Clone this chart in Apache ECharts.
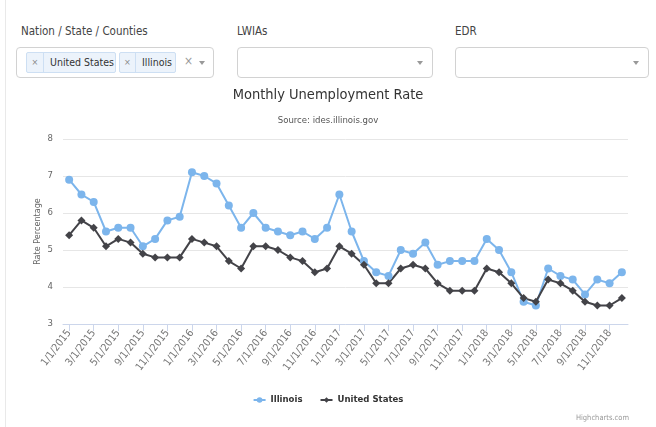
<!DOCTYPE html>
<html>
<head>
<meta charset="utf-8">
<script src="https://cdn.jsdelivr.net/npm/echarts@6/dist/echarts.min.js"></script>
<style>
  html, body { margin: 0; padding: 0; background: #fff; }
  body { width: 656px; height: 427px; position: relative; overflow: hidden;
         font-family: 'DejaVu Sans Condensed', 'Liberation Sans', sans-serif; }
  #chart { position: absolute; left: 0; top: 0; width: 656px; height: 427px; }
  .vline { position: absolute; left: 5px; top: 0; width: 1px; height: 427px; background: #e9e9e9; }
  .lbl { position: absolute; top: 23px; font-size: 11.5px; color: #444; line-height: 16px; white-space: nowrap; }
  .box { position: absolute; top: 47px; height: 29px; border: 1px solid #d2d2d2; border-radius: 4px; background: #fff; box-sizing: content-box; }
  .arrow { position: absolute; top: 13px; width: 0; height: 0; border-left: 3.5px solid transparent; border-right: 3.5px solid transparent; border-top: 4.5px solid #999; }
  .tag { position: absolute; top: 4px; height: 19px; border: 1px solid #cddff3; background: #ecf3fb; border-radius: 2px; font-size: 10.5px; color: #333; line-height: 19px; white-space: nowrap; }
  .tag .x { position: absolute; left: 0; top: 0; height: 19px; border-right: 1px solid #cddff3; color: #888; font-size: 9px; text-align: center; }
  .tag .t { position: absolute; top: 0; }
  .clr { position: absolute; top: 6px; font-size: 12px; color: #999; }
</style>
</head>
<body>
<div class="vline"></div>
<div class="lbl" style="left:21px;">Nation / State / Counties</div>
<div class="lbl" style="left:237px;">LWIAs</div>
<div class="lbl" style="left:455px;">EDR</div>

<div class="box" style="left:16px; width:196px;">
  <div class="tag" style="left:9px; width:88px;"><span class="x" style="width:16px;">×</span><span class="t" style="left:23px;">United States</span></div>
  <div class="tag" style="left:102px; width:55px;"><span class="x" style="width:15px;">×</span><span class="t" style="left:22px;">Illinois</span></div>
  <span class="clr" style="left:167px;">×</span>
  <div class="arrow" style="left:182px;"></div>
</div>
<div class="box" style="left:237px; width:194px;"><div class="arrow" style="left:179px;"></div></div>
<div class="box" style="left:455px; width:192px;"><div class="arrow" style="left:177px;"></div></div>

<div id="chart"></div>
<script>
const categories = [
  '1/1/2015','2/1/2015','3/1/2015','4/1/2015','5/1/2015','8/1/2015','9/1/2015','10/1/2015','11/1/2015','12/1/2015',
  '1/1/2016','2/1/2016','3/1/2016','4/1/2016','5/1/2016','6/1/2016','7/1/2016','8/1/2016','9/1/2016','10/1/2016','11/1/2016','12/1/2016',
  '1/1/2017','2/1/2017','3/1/2017','4/1/2017','5/1/2017','6/1/2017','7/1/2017','8/1/2017','9/1/2017','10/1/2017','11/1/2017','12/1/2017',
  '1/1/2018','2/1/2018','3/1/2018','4/1/2018','5/1/2018','6/1/2018','7/1/2018','8/1/2018','9/1/2018','10/1/2018','11/1/2018','12/1/2018'
];
const illinois = [
  6.9,6.5,6.3,5.5,5.6,5.6,5.1,5.3,5.8,5.9,
  7.1,7.0,6.8,6.2,5.6,6.0,5.6,5.5,5.4,5.5,5.3,5.6,
  6.5,5.5,4.7,4.4,4.3,5.0,4.9,5.2,4.6,4.7,4.7,4.7,
  5.3,5.0,4.4,3.6,3.5,4.5,4.3,4.2,3.8,4.2,4.1,4.4
];
const unitedStates = [
  5.4,5.8,5.6,5.1,5.3,5.2,4.9,4.8,4.8,4.8,
  5.3,5.2,5.1,4.7,4.5,5.1,5.1,5.0,4.8,4.7,4.4,4.5,
  5.1,4.9,4.6,4.1,4.1,4.5,4.6,4.5,4.1,3.9,3.9,3.9,
  4.5,4.4,4.1,3.7,3.6,4.2,4.1,3.9,3.6,3.5,3.5,3.7
];
const yTicks = { min: 3, max: 8, interval: 1 };

const FONT = "'DejaVu Sans Condensed', 'Liberation Sans', sans-serif";
const chart = echarts.init(document.getElementById('chart'), null, { renderer: 'canvas' });
chart.setOption({
  animation: false,
  textStyle: { fontFamily: FONT },
  title: [
    { text: 'Monthly Unemployment Rate', left: 'center', top: 83,
      textStyle: { fontSize: 14.5, fontWeight: 'normal', color: '#333', fontFamily: FONT } },
    { text: 'Source: ides.illinois.gov', left: 'center', top: 111,
      textStyle: { fontSize: 9.5, fontWeight: 'normal', color: '#555', fontFamily: FONT } }
  ],
  legend: {
    bottom: 17, left: 'center', itemWidth: 12, itemHeight: 7, itemGap: 17,
    data: ['Illinois', 'United States'],
    textStyle: { fontSize: 9.5, fontWeight: 'bold', color: '#333', fontFamily: FONT }
  },
  graphic: [
    { type: 'text', right: 27, top: 414,
      style: { text: 'Highcharts.com', fontSize: 7.5, fill: '#999', fontFamily: FONT } }
  ],
  grid: { left: 63, right: 28, top: 139, bottom: 103 },
  xAxis: {
    type: 'category', data: categories, boundaryGap: true,
    axisLine: { lineStyle: { color: '#ccd6eb' } },
    axisTick: { show: true, alignWithLabel: true, interval: 1, length: 7, lineStyle: { color: '#ccd6eb' } },
    axisLabel: { interval: 1, rotate: 53, fontSize: 10.5, color: '#777', margin: 7, fontFamily: FONT },
    splitLine: { show: false }
  },
  yAxis: {
    type: 'value', min: yTicks.min, max: yTicks.max, interval: yTicks.interval,
    name: 'Rate Percentage', nameLocation: 'middle', nameRotate: 90, nameGap: 21,
    nameMoveOverlap: false,
    nameTextStyle: { fontSize: 9, color: '#666', fontFamily: FONT },
    axisLine: { show: false }, axisTick: { show: false },
    axisLabel: { fontSize: 9.5, color: '#666', margin: 10, fontFamily: FONT },
    splitLine: { lineStyle: { color: '#e6e6e6' } }
  },
  series: [
    { name: 'Illinois', type: 'line', data: illinois, symbol: 'circle', symbolSize: 8,
      lineStyle: { color: '#7cb5ec', width: 2 }, itemStyle: { color: '#7cb5ec' } },
    { name: 'United States', type: 'line', data: unitedStates, symbol: 'diamond', symbolSize: 8,
      lineStyle: { color: '#434348', width: 2 }, itemStyle: { color: '#434348' } }
  ]
});
</script>
</body>
</html>
